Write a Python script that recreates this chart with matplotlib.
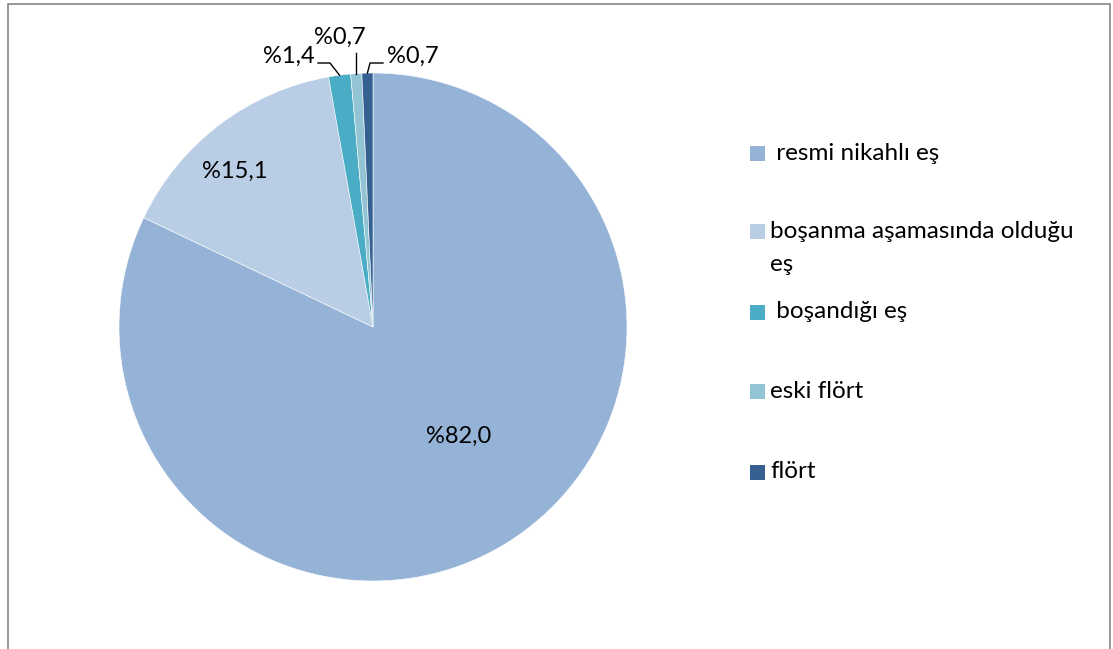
import numpy as np
import matplotlib.pyplot as plt
from matplotlib.patches import Rectangle

plt.rcParams['font.family'] = ['Lato', 'DejaVu Sans']

# data
labels = [' resmi nikahlı eş', 'boşanma aşamasında olduğu\neş', ' boşandığı eş', 'eski flört', 'flört']
values = [82.0, 15.1, 1.4, 0.7, 0.7]
value_text = ['%82,0', '%15,1', '%1,4', '%0,7', '%0,7']
colors = ['#95B3D7', '#B9CDE5', '#4BACC6', '#93C4D3', '#376092']

W, H = 1113, 649
fig = plt.figure(figsize=(W / 100, H / 100), dpi=100)

# outer frame (bottom edge is cut off in the original)
fig.patches.append(Rectangle((8 / W, -0.05), 1102 / W, 1.05 - 4 / H, transform=fig.transFigure,
                             fill=False, edgecolor='#868686', linewidth=1.2))

# pie area: center (373, 327) px, radius 254 px
cx, cy, r = 373, 327, 254
ax = fig.add_axes([(cx - r) / W, (H - cy - r) / H, 2 * r / W, 2 * r / H])
wedges, _ = ax.pie(values, colors=colors, startangle=90, counterclock=False, radius=1,
                   wedgeprops=dict(edgecolor='white', linewidth=0.4))
ax.set_xlim(-1, 1)
ax.set_ylim(-1, 1)
ax.set_aspect('equal')
ax.axis('off')


def px(x, y):
    return (x - cx) / r, (cy - y) / r


fs = 17
# inside labels
ax.text(*px(459, 436), value_text[0], ha='center', va='center', fontsize=fs)
ax.text(*px(235, 171), value_text[1], ha='center', va='center', fontsize=fs)

# small slices: leader lines from the slice edge
mids = [np.deg2rad((w.theta1 + w.theta2) / 2) for w in wedges]
edge = [(np.cos(a), np.sin(a)) for a in mids]

# %1,4
e = edge[2]
ax.plot([e[0], px(330, 63)[0], px(318, 63)[0]], [e[1], px(330, 63)[1], px(318, 63)[1]],
        color='black', lw=1, clip_on=False)
ax.text(*px(315, 56), value_text[2], ha='right', va='center', fontsize=fs)
# %0,7 (eski flört)
e = edge[3]
ax.plot([e[0], e[0]], [e[1], px(0, 53)[1]], color='black', lw=1, clip_on=False)
ax.text(*px(340, 37), value_text[3], ha='center', va='center', fontsize=fs)
# %0,7 (flört)
e = edge[4]
ax.plot([e[0], px(370, 63)[0], px(383, 63)[0]], [e[1], px(370, 63)[1], px(383, 63)[1]],
        color='black', lw=1, clip_on=False)
ax.text(*px(387, 56), value_text[4], ha='left', va='center', fontsize=fs)

# legend
leg_y = [153, 231, 312, 391, 472]
for lab, col, y in zip(labels, colors, leg_y):
    fig.patches.append(Rectangle((750 / W, (H - y - 7.5) / H), 15 / W, 15 / H,
                                 transform=fig.transFigure, facecolor=col, edgecolor='none'))
    for i, line in enumerate(lab.split('\n')):
        fig.text(770 / W, (H - y - 34 * i) / H, line, ha='left', va='center', fontsize=17.5)

fig.savefig('out.png', dpi=100)
